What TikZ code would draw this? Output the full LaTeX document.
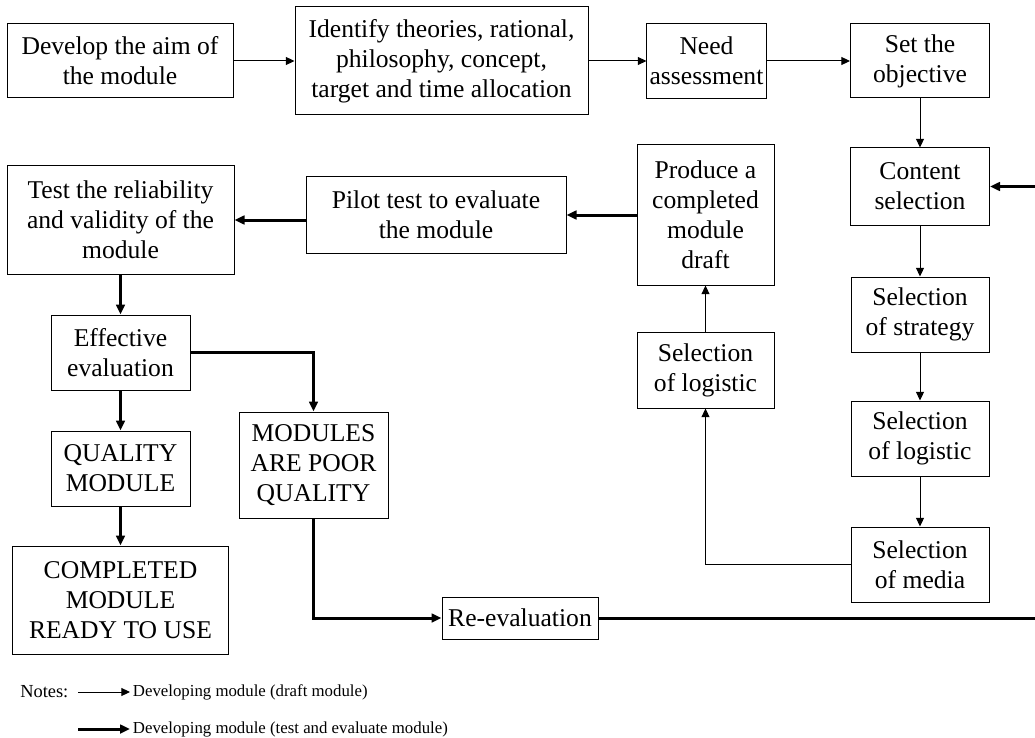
\documentclass[tikz,border=0pt]{standalone}
\usepackage{fontspec}
\setmainfont{Liberation Serif}
\usetikzlibrary{arrows.meta}

\begin{document}
\begin{tikzpicture}[x=0.75pt,y=-0.75pt,
  box/.style={draw,line width=0.75pt,align=center,inner sep=2pt,font=\fontsize{19.2}{22.5}\selectfont},
  flow/.style={line width=0.75pt,-{Triangle[length=6.5pt,width=6pt]}},
  heavy/.style={line width=2.25pt,-{Triangle[length=7.5pt,width=6.5pt]}},
  note/.style={anchor=west,inner sep=2pt,font=\fontsize{12.6}{15}\selectfont}]
\useasboundingbox (0,0) rectangle (1035,738);

\node[box,minimum width=169.5pt,minimum height=55.5pt] (aim) at (120,61) {Develop the aim of\\the module};
\node[box,minimum width=219.75pt,minimum height=81pt] (theory) at (441.5,61) {Identify theories, rational,\\philosophy, concept,\\target and time allocation};
\node[box,minimum width=86.25pt,minimum height=56.25pt] (need) at (706.5,61) {Need\\assessment};
\node[box,minimum width=104.25pt,minimum height=55.5pt] (obj) at (920,61) {Set the\\objective};

\node[box,minimum width=104.25pt,minimum height=57.75pt] (content) at (920,186.5) {Content\\selection};
\node[box,minimum width=103.5pt,minimum height=56.25pt] (strategy) at (920,314.5) {Selection\\of strategy};
\node[box,minimum width=103.5pt,minimum height=56.25pt] (logR) at (920,438.5) {Selection\\of logistic};
\node[box,minimum width=103.5pt,minimum height=56.25pt] (media) at (920,564.5) {Selection\\of media};

\node[box,minimum width=102.75pt,minimum height=57pt] (logM) at (705.5,370) {Selection\\of logistic};
\node[box,minimum width=102.75pt,minimum height=105pt] (produce) at (705.5,215) {Produce a\\completed\\module\\draft};
\node[box,minimum width=195pt,minimum height=57pt] (pilot) at (436,215) {Pilot test to evaluate\\the module};
\node[box,minimum width=170.25pt,minimum height=81pt] (test) at (120.5,220) {Test the reliability\\and validity of the\\module};

\node[box,minimum width=104.25pt,minimum height=56.25pt] (eff) at (120.5,352.5) {Effective\\evaluation};
\node[box,minimum width=104.25pt,minimum height=56.25pt] (quality) at (120.5,468.5) {QUALITY\\MODULE};
\node[box,minimum width=162pt,minimum height=81pt] (complete) at (120.5,600) {COMPLETED\\MODULE\\READY TO USE};
\node[box,minimum width=111.75pt,minimum height=79.5pt] (poor) at (313.5,465) {MODULES\\ARE POOR\\QUALITY};
\node[box,minimum width=117pt,minimum height=31.5pt] (reeval) at (520,618) {Re-evaluation};

% draft module
\draw[flow] (aim) -- (theory);
\draw[flow] (theory) -- (need);
\draw[flow] (need) -- (obj);
\draw[flow] (obj) -- (content);
\draw[flow] (content) -- (strategy);
\draw[flow] (strategy) -- (logR);
\draw[flow] (logR) -- (media);
\draw[flow] (media.west) -| (logM.south);
\draw[flow] (logM) -- (produce);

% test and evaluate
\coordinate (loop) at (1046,0);
\draw[heavy] (produce) -- (pilot);
\draw[heavy] (pilot.west |- test.east) -- (test.east);
\draw[heavy] (test) -- (eff);
\draw[heavy] (eff) -- (quality);
\draw[heavy] (quality) -- (complete);
\draw[heavy] (eff.east) -| (poor.north);
\draw[heavy] (poor.south) |- (reeval.west);
\draw[heavy] (reeval.east) -- (reeval.east -| loop) |- (content.east);

% notes
\node[anchor=west,inner sep=0pt,font=\fontsize{13.8}{16}\selectfont] (notes) at (20,692) {Notes:};
\coordinate (k1) at (78,692);
\coordinate (k2) at (78,729);
\node[note] (n1) at (130,692) {Developing module (draft module)};
\node[note] (n2) at (130,729) {Developing module (test and evaluate module)};
\draw[flow] (k1) -- (n1.west);
\draw[heavy] (k2) -- (n2.west);
\end{tikzpicture}
\end{document}
